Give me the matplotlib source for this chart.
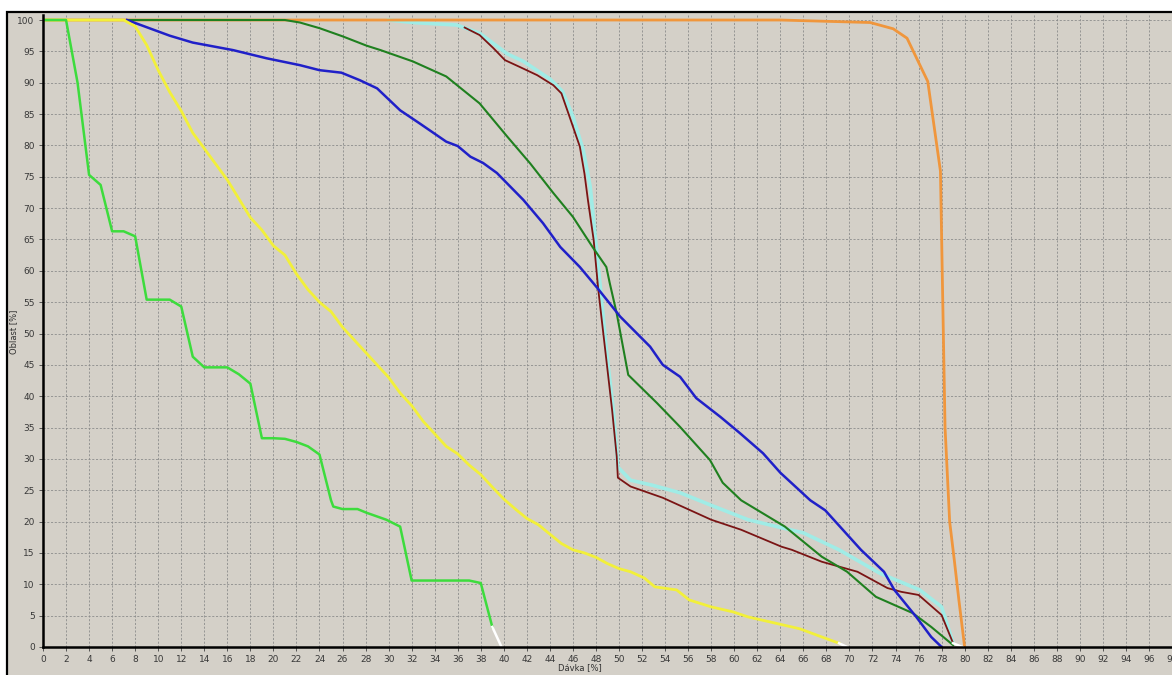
import matplotlib
matplotlib.use("agg")
import matplotlib.pyplot as plt
from matplotlib.patches import Rectangle

# dose-volume curves (x = dose %, y = area %)
light_green_x = [0, 2, 3, 4, 5, 6, 7, 8, 9, 10, 11, 12, 13, 14, 15, 16, 17, 18, 19,
                 20, 21, 22, 23, 24, 25, 25.2, 26, 27.3, 28.1, 29.8, 31, 32, 33, 37, 38, 39]
light_green_y = [100, 100, 90, 75.3, 73.7, 66.3, 66.3, 65.5, 55.4, 55.4, 55.4, 54.3, 46.3, 44.6,
                 44.6, 44.6, 43.5, 42, 33.3, 33.3, 33.2, 32.7, 32, 30.7, 23.4, 22.4, 22, 22, 21.4,
                 20.3, 19.2, 10.6, 10.6, 10.6, 10.2, 3.2]

yellow_x = [0, 7, 8, 9, 10, 11, 12, 13, 14, 15, 16, 17, 18, 19, 20, 21, 22, 23, 24, 25, 26,
            27, 28, 29, 30, 31, 32, 33, 34, 35, 36, 37, 38, 39, 40, 41, 42, 43, 44, 45, 46,
            47, 48, 49, 50, 51, 52.2, 53.1, 55, 56.1, 58, 59.9, 61.2, 63.1, 65.7, 67.6, 69.1]
yellow_y = [100, 100, 99, 96, 92, 88.5, 85.5, 82, 79.5, 77, 74.5, 71.5, 68.5, 66.5, 64, 62.5,
            59.5, 57, 55, 53.5, 51, 49, 47, 45, 43, 40.5, 38.5, 36, 34, 32, 30.8, 29, 27.5,
            25.5, 23.6, 22, 20.5, 19.5, 18, 16.5, 15.5, 15, 14.3, 13.3, 12.5, 12, 11, 9.6, 9.1,
            7.5, 6.4, 5.6, 4.8, 4.0, 2.9, 1.6, 0.6]

blue_x = [7.3, 11, 13, 16.5, 19.4, 22.3, 24, 25.9, 27.5, 29, 31, 32.7, 35, 36, 37.1, 38.2,
          39.4, 41.7, 43.4, 44.9, 46.6, 48.1, 50.1, 52.7, 53.8, 55.3, 56.7, 58.8, 60.5, 62.5,
          64, 66.6, 67.9, 71, 73, 73.9, 75.8, 77.1, 78]
blue_y = [100, 97.5, 96.4, 95.2, 93.9, 92.8, 92, 91.6, 90.4, 89.1, 85.6, 83.5, 80.6, 79.9,
          78.2, 77.2, 75.6, 71.3, 67.6, 63.8, 60.6, 57.3, 52.7, 47.9, 45, 43.1, 39.7, 36.7,
          34.1, 30.9, 27.8, 23.4, 21.8, 15.5, 12, 9.1, 4.8, 1.6, 0]

dark_green_x = [7.3, 21, 22.3, 24, 26, 28.1, 29.3, 32.1, 35, 37.9, 40.3, 42.3, 44.3, 46,
                47.7, 48.9, 49.2, 49.8, 50.8, 53.3, 55.3, 57.9, 59, 60.6, 64.4, 67.6, 69.8,
                72.3, 75.5, 77.1, 79]
dark_green_y = [100, 100, 99.6, 98.7, 97.4, 95.9, 95.2, 93.4, 91, 86.7, 81.4, 77.1, 72.4,
                68.6, 63.8, 60.6, 58, 53.2, 43.4, 38.9, 35.1, 29.8, 26.2, 23.4, 19.2, 14.4,
                12, 8, 5.4, 3.2, 0.3]

cyan_x = [30, 32.1, 35.9, 37.9, 40.3, 41.7, 44, 45.1, 46, 46.9, 47.5, 47.9, 48.4, 48.9,
          49.5, 49.9, 51, 52.9, 55.3, 58, 61.2, 66, 69.1, 72.6, 76.1, 78, 79]
cyan_y = [100, 99.6, 99.2, 97.9, 94.6, 93.4, 90.6, 88.6, 84.6, 79.2, 73.4, 66.1, 57, 47.4,
          37.8, 28.7, 26.6, 25.8, 24.6, 22.6, 20.3, 18.2, 15.5, 11.8, 9.1, 6.4, 0.6]

maroon_x = [36.6, 37.9, 39.1, 40.1, 41.4, 42.9, 44.3, 45, 45.7, 46.6, 47, 47.3, 47.8, 48.2,
            48.8, 49.4, 49.8, 49.9, 51, 53.8, 58, 60.6, 64.1, 65, 67.6, 70.7, 72, 73.3,
            74.5, 76, 78, 79]
maroon_y = [98.8, 97.6, 95.5, 93.6, 92.5, 91.2, 89.6, 88.3, 84.6, 79.8, 75.5, 71.3, 64.9,
            57, 47.4, 37.8, 30.4, 27, 25.6, 23.8, 20.3, 18.7, 16, 15.5, 13.6, 12, 10.7, 9.4,
            8.8, 8.3, 5.1, 0.6]

orange_x = [0, 64, 71.8, 73.8, 75, 76.8, 77.9, 78.1, 78.3, 78.7, 79.1, 79.5, 80]
orange_y = [100, 100, 99.6, 98.6, 97.1, 90.2, 75.9, 55.3, 35, 20, 13.9, 7.5, 0]

# short white tails at the end of some curves
tails = [([39, 39.8], [3.2, 0]), ([69.1, 69.8], [0.6, 0]), ([79, 79.8], [0.6, 0])]

bg = "#d4d0c8"
fig = plt.figure(figsize=(11.72, 6.75), dpi=100, facecolor="white")
fig.patches.append(Rectangle((7 / 1172, -0.01), 1.1, (675 - 12) / 675 + 0.01,
                             transform=fig.transFigure, facecolor=bg, edgecolor="black",
                             linewidth=1.6, zorder=-1))

ax = fig.add_axes([43 / 1172, 28 / 675, (1172 - 43) / 1172, (647 - 15) / 675])
ax.set_facecolor(bg)

ax.plot(cyan_x, cyan_y, color="#a0ece6", lw=2.6)
ax.plot(orange_x, orange_y, color="#f0963c", lw=2.0)
ax.plot(maroon_x, maroon_y, color="#7a1414", lw=1.3)
ax.plot(dark_green_x, dark_green_y, color="#1f801f", lw=1.5)
ax.plot(blue_x, blue_y, color="#2020c8", lw=1.8)
ax.plot(yellow_x, yellow_y, color="#f2f03a", lw=2.0)
ax.plot(light_green_x, light_green_y, color="#3ddc3d", lw=1.8)
for tx, ty in tails:
    ax.plot(tx, ty, color="white", lw=1.8)

ax.set_xlim(0, 98.0)
ax.set_ylim(0, 100.8)
ax.set_xticks(range(0, 100, 2))
ax.set_yticks(range(0, 101, 5))
ax.grid(True, color="#8c8c8c", linestyle=(0, (2.5, 2.0)), linewidth=0.6)
ax.set_axisbelow(True)
for side in ("top", "right"):
    ax.spines[side].set_visible(False)
for side in ("left", "bottom"):
    ax.spines[side].set_linewidth(1.8)
    ax.spines[side].set_color("black")
ax.tick_params(labelsize=6.5, labelcolor="#383838", length=3, width=0.6, color="#404040", pad=3)

fig.text(14 / 1172, 1 - 332 / 675, "Oblast [%]", rotation=90, ha="center", va="center",
         fontsize=6, color="#303030")
fig.text(580 / 1172, 1 - 668 / 675, "Dávka [%]", ha="center", va="center",
         fontsize=6, color="#303030")

fig.savefig("out.png", dpi=100, facecolor=fig.get_facecolor())
